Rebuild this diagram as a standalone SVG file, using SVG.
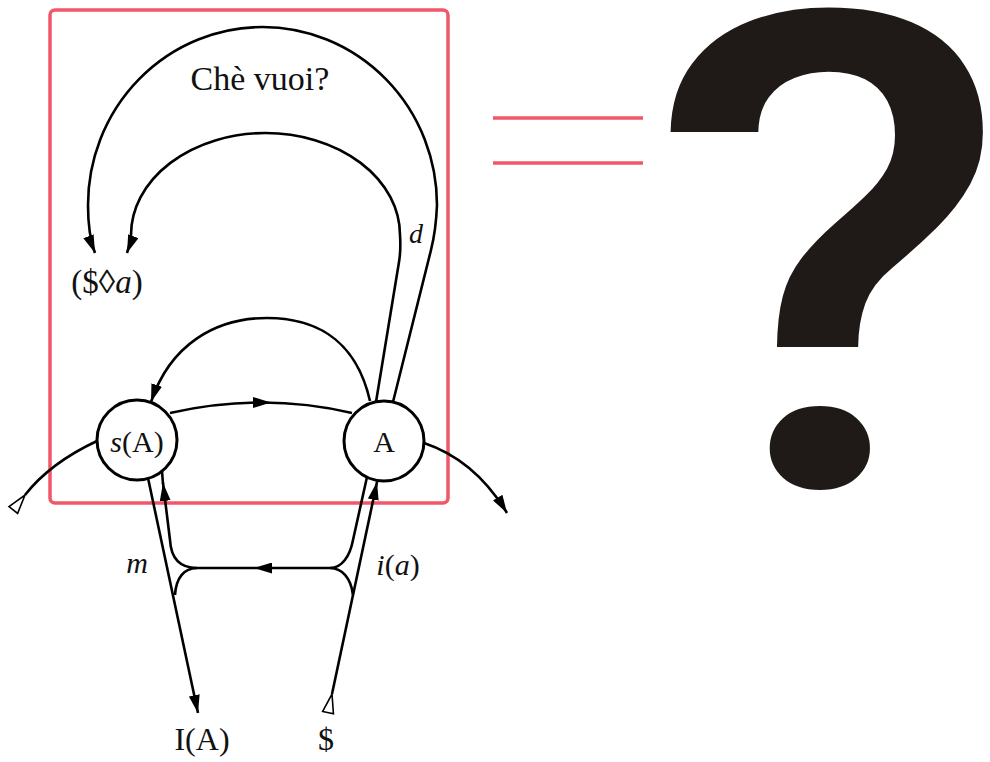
<svg xmlns="http://www.w3.org/2000/svg" width="990" height="762" viewBox="0 0 990 762">
<defs>
<style>
.ln{fill:none;stroke:#000;stroke-width:2.6;stroke-linejoin:round}
.nd{fill:#fff;stroke:#000;stroke-width:3}
.tx{font-family:"Liberation Serif","DejaVu Serif",serif;fill:#111}
.it{font-style:italic}
.red{fill:none;stroke:#ef3a4c;stroke-opacity:0.85;stroke-width:3.5}
</style>
<marker id="ah" viewBox="0 0 18 11" refX="18" refY="5.5" markerWidth="18" markerHeight="11" markerUnits="userSpaceOnUse" orient="auto"><path d="M0,0 L18,5.5 L0,11 z" fill="#000"/></marker>
<marker id="am" viewBox="0 0 18 11" refX="9" refY="5.5" markerWidth="18" markerHeight="11" markerUnits="userSpaceOnUse" orient="auto"><path d="M0,0 L18,5.5 L0,11 z" fill="#000"/></marker>
<marker id="op" viewBox="-2 -2 23 15" refX="19" refY="5.5" markerWidth="23" markerHeight="15" markerUnits="userSpaceOnUse" orient="auto"><path d="M0,0 L19,5.5 L0,11 z" fill="#fff" stroke="#000" stroke-width="1.6"/></marker>
</defs>
<rect x="0" y="0" width="990" height="762" fill="#fff"/>

<g id="frame">
<rect class="red" x="50" y="10" width="398" height="493" rx="5"/>
<line class="red" x1="493" y1="118" x2="643" y2="118" stroke-width="5"/>
<line class="red" x1="493" y1="163" x2="643" y2="163" stroke-width="5"/>
</g>

<g id="question">
<text transform="translate(830,486) scale(1.12,1)" x="0" y="0" text-anchor="middle" font-family="Roboto,sans-serif" font-weight="500" font-size="664" fill="#1f1a17">?</text>
</g>

<g id="connectors">
<path class="ln" d="M393,402 L431,250 Q436,230 437,205 A174.5 178 0 0 0 88 205 Q88,235 95,253" marker-end="url(#ah)"/>
<path class="ln" d="M376,402 L399,262 Q401,250 400,235 A134.5 102 0 0 0 131 235 Q130,245 127,253" marker-end="url(#ah)"/>
<path class="ln" d="M370,401 C355,335 310,318 267,318 C215,318 170,345 151,402" marker-end="url(#ah)"/>
<path class="ln" d="M170,413 Q216.5,402.5 262,402.5 Q307.5,402.5 352,413" marker-mid="url(#am)"/>
<path class="ln" d="M25,495 Q50,463 97,441" marker-start="url(#op)"/>
<path class="ln" d="M424,443 Q475,460 507,513" marker-end="url(#ah)"/>
<path class="ln" d="M148,478 L198,713" marker-end="url(#ah)"/>
<path class="ln" d="M197,568 C180,568 171,558 170,540 L163,483" marker-end="url(#ah)"/>
<path class="ln" d="M163,484 L162,471"/>
<path class="ln" d="M197,568 C184,568 176,578 175,595"/>
<path class="ln" d="M330,568 L263,568 L197,568" marker-mid="url(#am)"/>
<path class="ln" d="M367,477 L353,540 C350,556 342,568 330,568"/>
<path class="ln" d="M330,568 C342,568 351,578 353,595"/>
<path class="ln" d="M332,694 L377,482" marker-start="url(#op)" marker-end="url(#ah)"/>
</g>

<g id="node-sA">
<circle class="nd" cx="137" cy="440" r="40"/>
<text class="tx" x="137" y="452" text-anchor="middle" font-size="30"><tspan class="it">s</tspan>(A)</text>
</g>
<g id="node-A">
<circle class="nd" cx="384" cy="441" r="40"/>
<text class="tx" x="384" y="452" text-anchor="middle" font-size="30">A</text>
</g>
<g id="node-sa">
<text class="tx" x="107" y="293" text-anchor="middle" font-size="33">($◊<tspan class="it">a</tspan>)</text>
</g>
<g id="node-IA">
<text class="tx" x="202" y="750" text-anchor="middle" font-size="32">I(A)</text>
</g>
<g id="node-S">
<text class="tx" x="326" y="750" text-anchor="middle" font-size="32">$</text>
</g>
<g id="labels">
<text class="tx" x="260" y="90" text-anchor="middle" font-size="34">Chè vuoi?</text>
<text class="tx it" x="416" y="243" text-anchor="middle" font-size="28">d</text>
<text class="tx it" x="137" y="573" text-anchor="middle" font-size="30">m</text>
<text class="tx" x="398" y="575" text-anchor="middle" font-size="30"><tspan class="it">i</tspan>(<tspan class="it">a</tspan>)</text>
</g>
</svg>
